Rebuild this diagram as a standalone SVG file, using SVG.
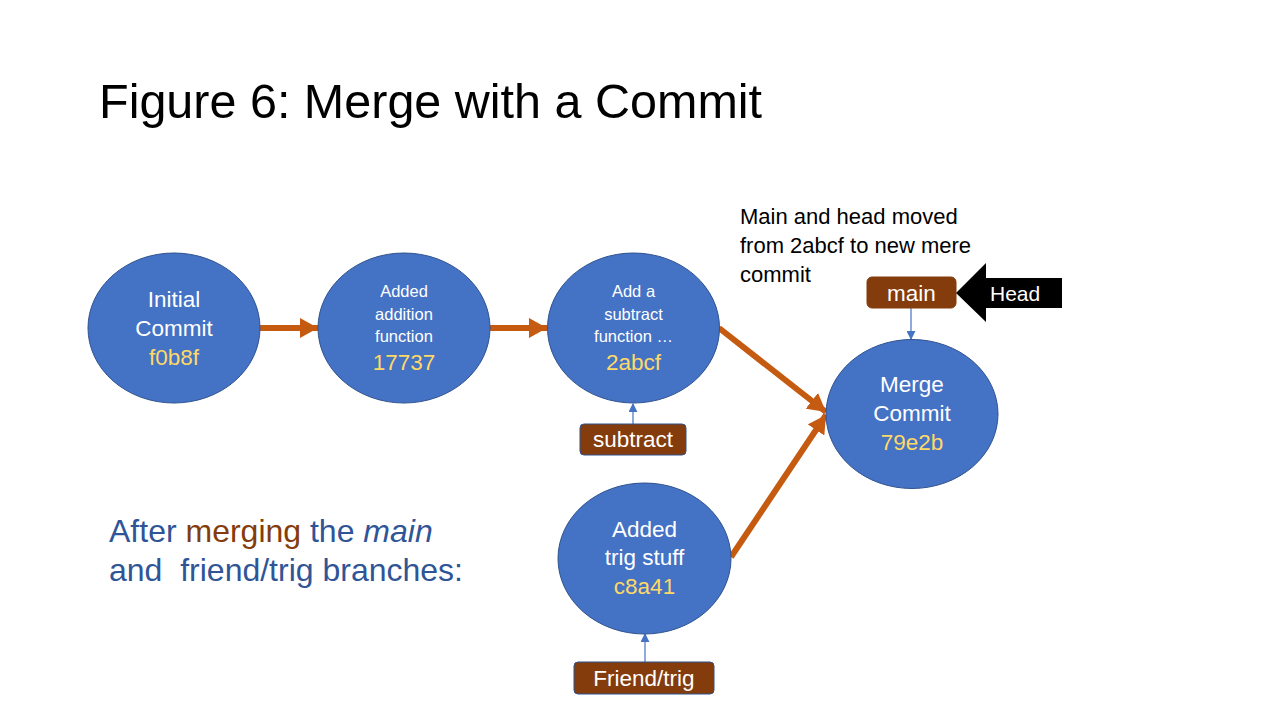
<svg xmlns="http://www.w3.org/2000/svg" width="1280" height="720" viewBox="0 0 1280 720">
<style>
  text { font-family: "Liberation Sans", Arial, sans-serif; }
  .node ellipse { fill: #4472C4; stroke: #2F528F; stroke-width: 1; }
  .lbl { fill: #FFFFFF; text-anchor: middle; }
  .hash { fill: #FFD966; text-anchor: middle; font-size: 22.5px; }
  .big { font-size: 22.5px; }
  .small { font-size: 16.5px; }
  .ref rect { fill: #843C0C; stroke: #2F528F; stroke-width: 1; }
  .ref text { fill: #FFFFFF; text-anchor: middle; font-size: 22.5px; }
  .edge { stroke: #C55A11; stroke-width: 6; fill: none; }
  .ptr { stroke: #4472C4; stroke-width: 1.2; fill: none; }
</style>
<defs>
  <marker id="ah" markerUnits="userSpaceOnUse" markerWidth="20" markerHeight="20" viewBox="0 0 20 20" refX="18" refY="10" orient="auto">
    <path d="M0,0 L18,10 L0,20 Z" fill="#C55A11"/>
  </marker>
  <marker id="sh" markerUnits="userSpaceOnUse" markerWidth="9" markerHeight="9" viewBox="0 0 10 10" refX="9" refY="5" orient="auto">
    <path d="M0,0 L10,5 L0,10 Z" fill="#4472C4"/>
  </marker>
</defs>
<rect width="1280" height="720" fill="#FFFFFF"/>

<text x="99" y="118" font-size="48.5" fill="#000000">Figure 6: Merge with a Commit</text>

<g id="edges">
  <line class="edge" x1="260" y1="328" x2="318" y2="328" marker-end="url(#ah)"/>
  <line class="edge" x1="490" y1="328" x2="547" y2="328" marker-end="url(#ah)"/>
  <line class="edge" x1="719" y1="328" x2="826" y2="412" marker-end="url(#ah)"/>
  <line class="edge" x1="731" y1="557" x2="826" y2="415" marker-end="url(#ah)"/>
  <line class="ptr" x1="633" y1="424" x2="633" y2="404" marker-end="url(#sh)"/>
  <line class="ptr" x1="645" y1="662" x2="645" y2="634" marker-end="url(#sh)"/>
  <line class="ptr" x1="911" y1="308" x2="911" y2="339" marker-end="url(#sh)"/>
</g>

<g id="n-f0b8f" class="node">
  <ellipse cx="174" cy="328" rx="86" ry="75"/>
  <text class="lbl big" x="174" y="307">Initial</text>
  <text class="lbl big" x="174" y="336">Commit</text>
  <text class="hash" x="174" y="365">f0b8f</text>
</g>

<g id="n-17737" class="node">
  <ellipse cx="404" cy="328" rx="86" ry="75"/>
  <text class="lbl small" x="404" y="297">Added</text>
  <text class="lbl small" x="404" y="320">addition</text>
  <text class="lbl small" x="404" y="342">function</text>
  <text class="hash" x="404" y="370">17737</text>
</g>

<g id="n-2abcf" class="node">
  <ellipse cx="633.5" cy="328" rx="86" ry="75"/>
  <text class="lbl small" x="633.5" y="297">Add a</text>
  <text class="lbl small" x="633.5" y="320">subtract</text>
  <text class="lbl small" x="633.5" y="342">function …</text>
  <text class="hash" x="633.5" y="370">2abcf</text>
</g>

<g id="n-79e2b" class="node">
  <ellipse cx="912" cy="414" rx="86" ry="74.5"/>
  <text class="lbl big" x="912" y="392">Merge</text>
  <text class="lbl big" x="912" y="421">Commit</text>
  <text class="hash" x="912" y="450">79e2b</text>
</g>

<g id="n-c8a41" class="node">
  <ellipse cx="644.5" cy="558.5" rx="86.5" ry="75.5"/>
  <text class="lbl big" x="644.5" y="537">Added</text>
  <text class="lbl big" x="644.5" y="565">trig stuff</text>
  <text class="hash" x="644.5" y="594">c8a41</text>
</g>

<g id="ref-subtract" class="ref">
  <rect x="580" y="424" width="106" height="31" rx="4"/>
  <text x="633" y="447">subtract</text>
</g>

<g id="ref-friend-trig" class="ref">
  <rect x="574" y="662" width="140" height="32" rx="4"/>
  <text x="644" y="686">Friend/trig</text>
</g>

<g id="ref-main" class="ref">
  <rect x="867" y="277" width="89" height="31" rx="5" style="stroke:#843C0C"/>
  <text x="911.5" y="301">main</text>
</g>

<g id="head">
  <polygon points="956,293 986,263 986,278 1062,278 1062,308 986,308 986,322" fill="#000000"/>
  <text x="990" y="301" font-size="21" fill="#FFFFFF">Head</text>
</g>

<g id="note" font-size="22" fill="#000000">
  <text x="740" y="224">Main and head moved</text>
  <text x="740" y="253">from 2abcf to new mere</text>
  <text x="740" y="282">commit</text>
</g>

<g id="caption" font-size="32" fill="#2F5597">
  <text x="109" y="542">After <tspan fill="#843C0C">merging</tspan> the <tspan font-style="italic">main</tspan></text>
  <text x="109" y="581" xml:space="preserve">and  friend/trig branches:</text>
</g>
</svg>
